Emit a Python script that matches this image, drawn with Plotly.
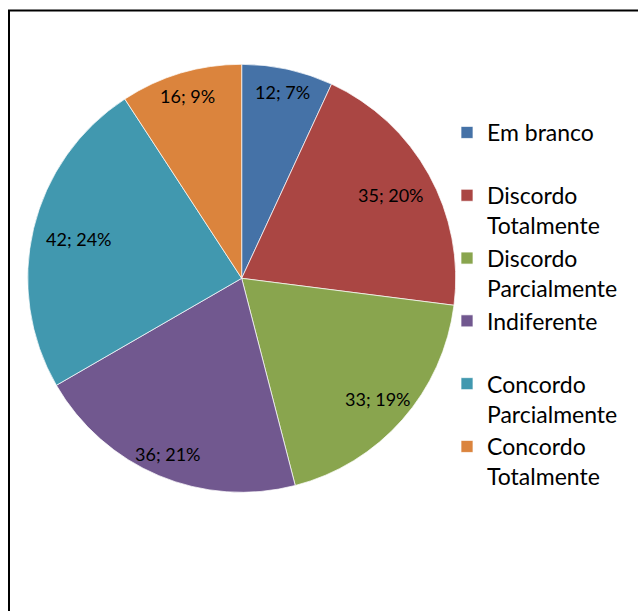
import math
import plotly.graph_objects as go

categories = ["Em branco", "Discordo<br>Totalmente", "Discordo<br>Parcialmente",
              "Indiferente", "Concordo<br>Parcialmente", "Concordo<br>Totalmente"]
values = [12, 35, 33, 36, 42, 16]
colors = ["#4572A7", "#AA4643", "#89A54E", "#71588F", "#4198AF", "#DB843D"]

# radial placement (fraction of radius) of each data label, as in the original "best fit"
label_radius = [0.89, 0.80, 0.85, 0.89, 0.78, 0.89]

# pad single-line legend entries so each entry uses two lines like the original
legend_labels = [c if "<br>" in c else c + "<br> " for c in categories]

W, H = 638, 611
cx, cy, R = 241.7, 278.3, 214.0

fig = go.Figure(go.Pie(
    labels=legend_labels,
    values=values,
    sort=False,
    direction="clockwise",
    rotation=0,
    marker=dict(colors=colors, line=dict(color="rgba(255,255,255,0.7)", width=1)),
    textinfo="none",
    hoverinfo="label+value+percent",
    domain=dict(x=[(cx - R) / W, (cx + R) / W],
                y=[(H - cy - R) / H, (H - cy + R) / H]),
))

total = sum(values)
annotations = []
cum = 0
for v, rf in zip(values, label_radius):
    mid = (cum + v / 2) / total * 2 * math.pi
    cum += v
    px = cx + rf * R * math.sin(mid)
    py = cy - rf * R * math.cos(mid)
    annotations.append(dict(
        x=px / W, y=1 - py / H, xref="paper", yref="paper",
        text=f"{v}; {round(100 * v / total)}%", showarrow=False,
        xanchor="center", yanchor="middle",
        font=dict(family="Lato", size=18, color="black"),
    ))

fig.update_layout(
    width=W, height=H,
    margin=dict(l=0, r=0, t=0, b=0),
    paper_bgcolor="white",
    showlegend=True,
    legend=dict(
        x=447 / W, xanchor="left",
        y=1 - 111 / H, yanchor="top",
        valign="top",
        font=dict(family="Lato", size=23, color="black"),
        bgcolor="rgba(0,0,0,0)",
    ),
    annotations=annotations,
    shapes=[dict(type="rect", xref="paper", yref="paper",
                 x0=9 / W, x1=1.05, y0=-0.05, y1=1 - 10.5 / H,
                 line=dict(color="black", width=2), layer="above")],
)

fig.write_html("out.html")
